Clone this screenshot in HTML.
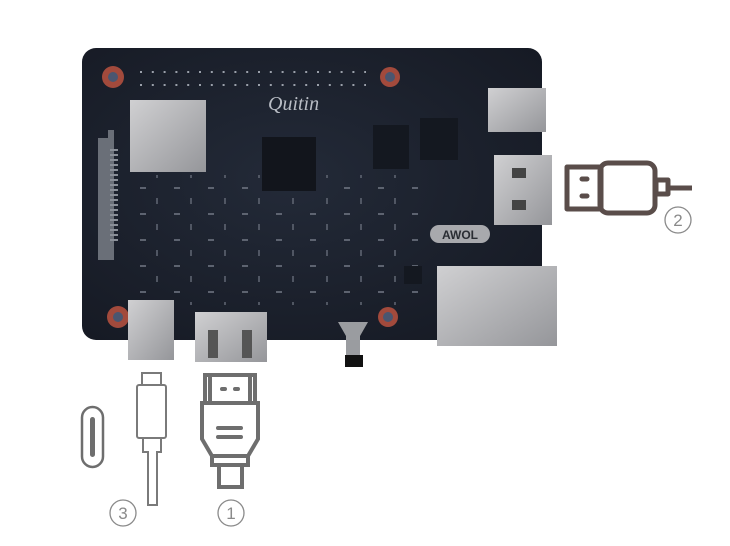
<!DOCTYPE html>
<html><head><style>body{margin:0;background:#fff}svg{display:block}</style></head><body>
<svg width="730" height="546" viewBox="0 0 730 546" xmlns="http://www.w3.org/2000/svg" font-family="Liberation Sans, sans-serif">
<defs>
<linearGradient id="sil" x1="0" y1="0" x2="1" y2="1"><stop offset="0" stop-color="#d0d0d2"/><stop offset="1" stop-color="#95969a"/></linearGradient>
<radialGradient id="bd" cx="0.45" cy="0.45" r="0.7"><stop offset="0" stop-color="#232a38"/><stop offset="1" stop-color="#161a24"/></radialGradient>
<pattern id="cmp" width="34" height="26" patternUnits="userSpaceOnUse"><rect x="4" y="5" width="6" height="2" fill="#6d7380"/><rect x="20" y="16" width="2" height="6" fill="#5d6370"/></pattern>
</defs>
<rect x="82" y="48" width="460" height="292" rx="14" fill="url(#bd)"/>
<rect x="125" y="175" width="300" height="130" fill="url(#cmp)" opacity="0.8"/>
<g fill="#a24a3c"><circle cx="113" cy="77" r="11"/><circle cx="390" cy="77" r="10"/><circle cx="118" cy="317" r="11"/><circle cx="388" cy="317" r="10"/></g>
<g fill="#4a5670"><circle cx="113" cy="77" r="5"/><circle cx="390" cy="77" r="5"/><circle cx="118" cy="317" r="5"/><circle cx="388" cy="317" r="5"/></g>
<path d="M140 72h226" stroke="#9aa0aa" stroke-width="2" stroke-dasharray="2 9.8"/>
<path d="M140 85h226" stroke="#9aa0aa" stroke-width="2" stroke-dasharray="2 9.8"/>
<rect x="130" y="100" width="76" height="72" fill="url(#sil)"/>
<path d="M98 138h10v-8h6v130h-16z" fill="#6a6f78"/>
<path d="M110 150h8M110 155h8M110 160h8M110 165h8M110 170h8M110 175h8M110 180h8M110 185h8M110 190h8M110 195h8M110 200h8M110 205h8M110 210h8M110 215h8M110 220h8M110 225h8M110 230h8M110 235h8M110 240h8" stroke="#8a8f98" stroke-width="2"/>
<rect x="262" y="137" width="54" height="54" fill="#12151c"/>
<rect x="373" y="125" width="36" height="44" fill="#141820"/>
<rect x="420" y="118" width="38" height="42" fill="#141820"/>
<rect x="404" y="266" width="18" height="18" fill="#141820"/>
<text x="268" y="110" font-size="20" fill="#b8bcc4" font-style="italic" font-family="Liberation Serif, serif">Quitin</text>
<rect x="488" y="88" width="58" height="44" fill="url(#sil)"/>
<rect x="494" y="155" width="58" height="70" fill="url(#sil)"/>
<path d="M512 168h14v10h-14zM512 200h14v10h-14z" fill="#444"/>
<rect x="430" y="225" width="60" height="18" rx="9" fill="#a8a9ad"/>
<text x="460" y="239" font-size="12" font-weight="bold" fill="#2a2d33" text-anchor="middle">AWOL</text>
<rect x="437" y="266" width="120" height="80" fill="url(#sil)"/>
<rect x="128" y="300" width="46" height="60" fill="url(#sil)"/>
<rect x="195" y="312" width="72" height="50" fill="url(#sil)"/>
<path d="M208 330h10v28h-10zM242 330h10v28h-10z" fill="#555"/>
<path d="M338 322h30l-8 14v22h-14v-22z" fill="#9a9ca0"/>
<rect x="345" y="355" width="18" height="12" fill="#111"/>
<rect x="82" y="407" width="21" height="60" rx="10.5" fill="none" stroke="#6e6e6e" stroke-width="2.5"/>
<rect x="90" y="417" width="5" height="40" rx="2.5" fill="#6e6e6e"/>
<g fill="none" stroke="#7a7a7a" stroke-width="2">
<rect x="142" y="373" width="19" height="12"/>
<rect x="137" y="385" width="29" height="53" rx="2"/>
<path d="M143 438v14h5v53h9v-53h4v-14"/>
</g>
<g fill="none" stroke="#6e6e6e" stroke-width="4">
<rect x="205" y="375" width="50" height="28"/>
<path d="M210 375v28M250 375v28"/>
<path d="M202 403h56v36l-10 17h-36l-10-17z"/>
<path d="M212 456h36v9h-36z"/>
<rect x="219" y="465" width="23" height="22"/>
</g>
<g stroke="#6e6e6e" stroke-width="4" stroke-linecap="round">
<path d="M222 389h3M235 389h3M218 428h23M218 437h23"/>
</g>
<g fill="none" stroke="#5a4d4a" stroke-width="5" stroke-linejoin="round">
<rect x="567" y="167" width="34" height="42"/>
<rect x="600" y="163" width="55" height="50" rx="8"/>
<rect x="656" y="180" width="12" height="14"/>
<path d="M668 188h24"/>
</g>
<g stroke="#5a4d4a" stroke-width="5" stroke-linecap="round"><path d="M582 179h5M582 196h5"/></g>
<g fill="none" stroke="#8a8a8a" stroke-width="1.3">
<circle cx="123" cy="513" r="13"/><circle cx="231" cy="513" r="13"/><circle cx="678" cy="220" r="13"/>
</g>
<g font-size="17" fill="#8a8a8a" text-anchor="middle">
<text x="123" y="519">3</text><text x="231" y="519">1</text><text x="678" y="226">2</text>
</g>
</svg>
</body></html>
